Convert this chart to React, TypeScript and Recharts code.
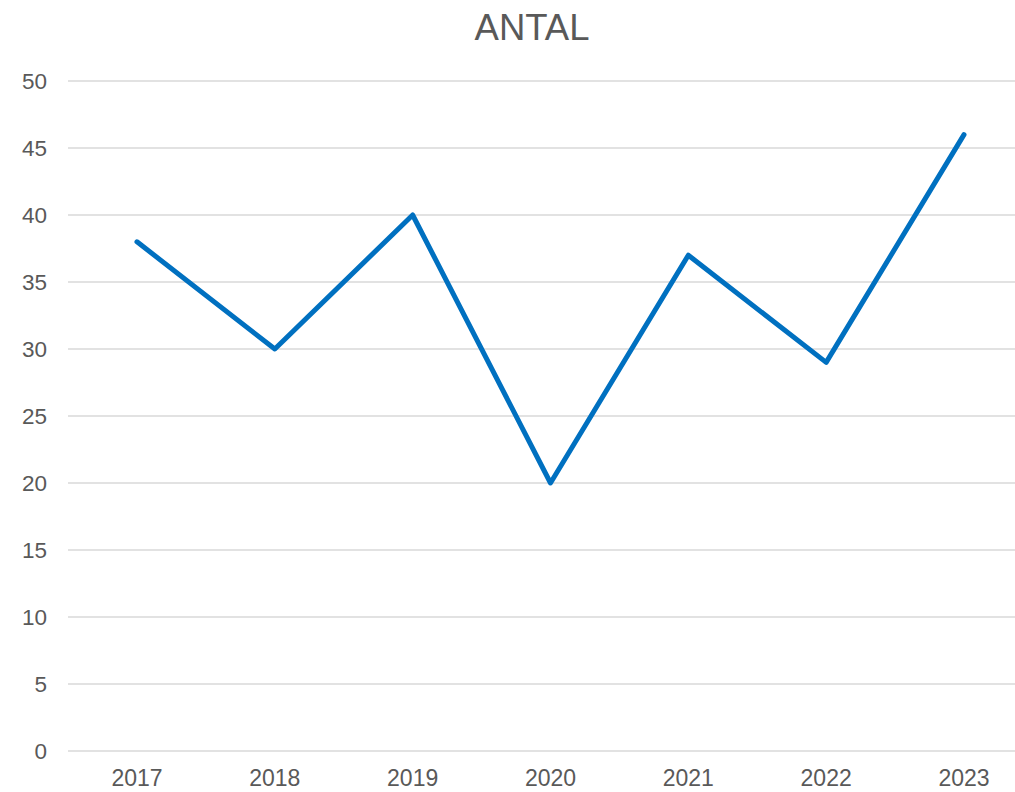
import React from 'react';
import { LineChart, Line, XAxis, YAxis, CartesianGrid } from 'recharts';

const years = ['2017', '2018', '2019', '2020', '2021', '2022', '2023'];
const antal = [38, 30, 40, 20, 37, 29, 46];
const yTicks = [0, 5, 10, 15, 20, 25, 30, 35, 40, 45, 50];

const data = years.map((y, i) => ({ year: y, antal: antal[i] }));

export default function App() {
  return (
    <div style={{ position: 'fixed', left: 0, top: 0, width: 1015, height: 792, overflow: 'hidden', background: '#fff', fontFamily: '"Liberation Sans", Arial, sans-serif' }}>
      <div style={{ position: 'absolute', left: 0, top: 0, width: 1064, textAlign: 'center', fontSize: 36.5, color: '#595959', lineHeight: '56px' }}>ANTAL</div>
      <LineChart width={1040} height={792} data={data} margin={{ top: 81, right: 7, bottom: 0, left: 0 }} style={{ position: 'absolute', left: 0, top: 0 }}>
        <CartesianGrid vertical={false} stroke="#d9d9d9" strokeWidth={1.5} />
        <XAxis dataKey="year" axisLine={false} tickLine={false} height={41} padding={{ left: 69, right: 69 }} tick={{ fill: '#595959', fontSize: 23 }} tickMargin={13} />
        <YAxis domain={[0, 50]} ticks={yTicks} width={68} axisLine={false} tickLine={false} tickSize={0} tickMargin={21} tick={{ fill: '#595959', fontSize: 22.5 }} interval={0} />
        <Line type="linear" dataKey="antal" stroke="#0070C0" strokeWidth={5} dot={false} strokeLinecap="round" strokeLinejoin="round" isAnimationActive={false} />
      </LineChart>
    </div>
  );
}
